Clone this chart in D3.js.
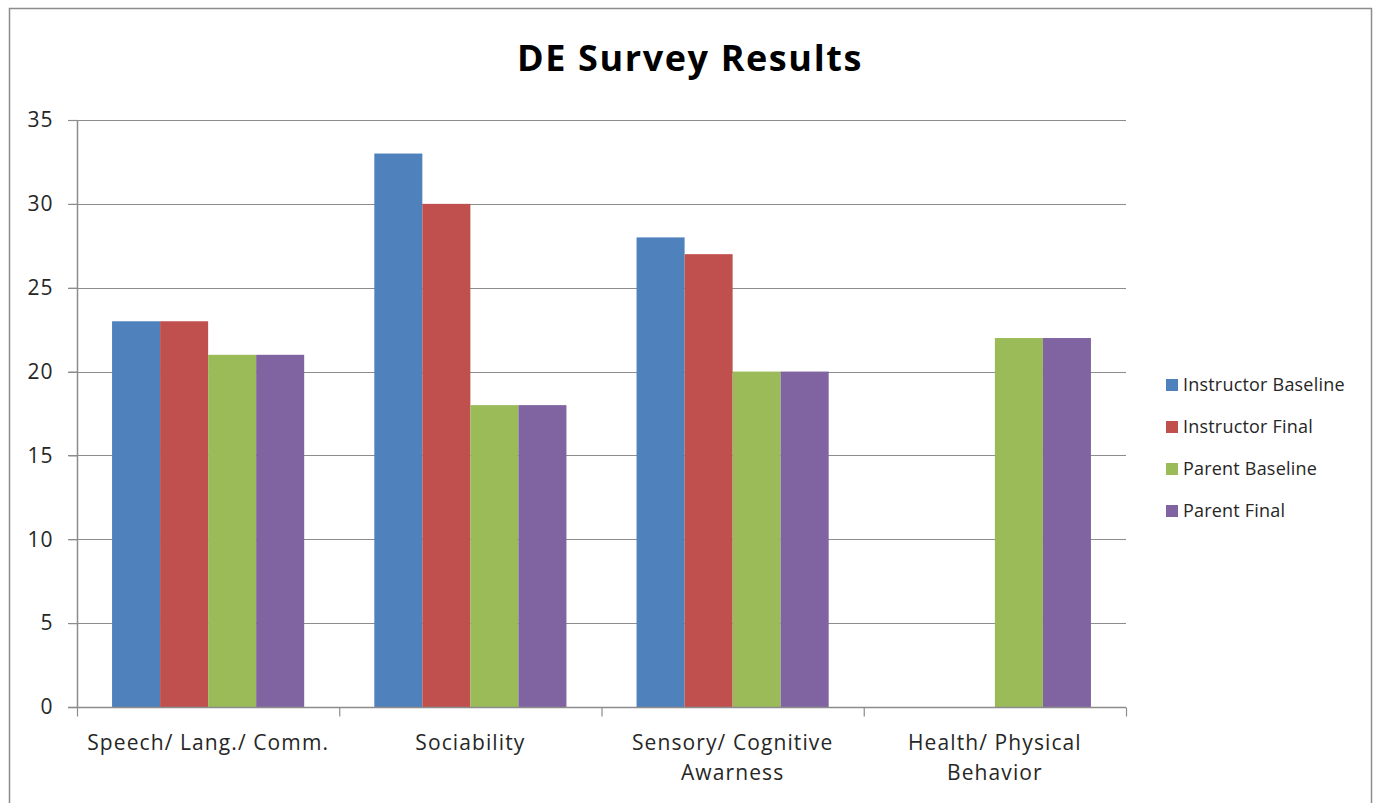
<!DOCTYPE html>
<html>
<head>
<meta charset="utf-8">
<script src="https://cdn.jsdelivr.net/npm/d3@7"></script>
<style>
  body { margin: 0; background: #fff; }
  text { font-family: "Open Sans", "Liberation Sans", sans-serif; fill: #262626; }
</style>
</head>
<body>
<svg width="1377" height="803"></svg>
<script>
// chart data
const categories = ["Speech/ Lang./ Comm.", "Sociability", "Sensory/ Cognitive Awarness", "Health/ Physical Behavior"];
const categoryLines = [["Speech/ Lang./ Comm."], ["Sociability"], ["Sensory/ Cognitive", "Awarness"], ["Health/ Physical", "Behavior"]];
const seriesNames = ["Instructor Baseline", "Instructor Final", "Parent Baseline", "Parent Final"];
const instructorBaseline = [23, 33, 28, 0];
const instructorFinal = [23, 30, 27, 0];
const parentBaseline = [21, 18, 20, 22];
const parentFinal = [21, 18, 20, 22];
const yTicks = [0, 5, 10, 15, 20, 25, 30, 35];

const seriesValues = [instructorBaseline, instructorFinal, parentBaseline, parentFinal];
const colors = ["#4f81bd", "#c0504d", "#9bbb59", "#8064a2"];

const svg = d3.select("svg");

// outer frame
svg.append("rect")
  .attr("x", 9.5).attr("y", 8.5)
  .attr("width", 1362).attr("height", 800)
  .attr("fill", "none").attr("stroke", "#8c8c8c").attr("stroke-width", 1.5);

const plotLeft = 77, plotRight = 1126, plotTop = 120, plotBottom = 707;

const x = d3.scaleBand().domain(categories).range([plotLeft, plotRight]);
const xs = d3.scaleBand().domain(seriesNames).range([0, x.bandwidth()]).paddingOuter(0.73);
const y = d3.scaleLinear().domain([0, 35]).range([plotBottom, plotTop]);

// title
svg.append("text")
  .attr("x", 690).attr("y", 71)
  .attr("text-anchor", "middle")
  .style("font-size", "36px").style("font-weight", "bold").style("fill", "#000")
  .style("letter-spacing", "1.6px")
  .text("DE Survey Results");

// gridlines
svg.append("g")
  .selectAll("line")
  .data(yTicks.filter(d => d > 0))
  .join("line")
  .attr("x1", plotLeft - 9).attr("x2", plotRight)
  .attr("y1", d => Math.round(y(d)) + 0.5).attr("y2", d => Math.round(y(d)) + 0.5)
  .attr("stroke", "#8c8c8c").attr("stroke-width", 1.2);

// bars
const groups = svg.append("g")
  .selectAll("g")
  .data(categories)
  .join("g")
  .attr("transform", d => `translate(${x(d)},0)`);

groups.selectAll("rect")
  .data((c, ci) => seriesNames.map((s, si) => ({ s, si, v: seriesValues[si][ci] })))
  .join("rect")
  .attr("x", d => xs(d.s))
  .attr("y", d => y(d.v))
  .attr("width", xs.bandwidth())
  .attr("height", d => y(0) - y(d.v))
  .attr("fill", d => colors[d.si]);

// y axis
const yAxis = svg.append("g")
  .attr("transform", `translate(${plotLeft + 0.5},0)`)
  .call(d3.axisLeft(y).tickValues(yTicks).tickSize(9).tickPadding(15));
yAxis.attr("font-family", null).attr("font-size", null);
yAxis.select(".domain").attr("stroke", "#8c8c8c").attr("stroke-width", 1.5).attr("d", `M0,${plotTop}V${plotBottom}`);
yAxis.selectAll(".tick line").attr("stroke", "#8c8c8c").attr("stroke-width", 1.2);
yAxis.selectAll(".tick text").style("font-size", "21px").style("letter-spacing", "1px").style("fill", "#262626");

// x axis
const xAxis = svg.append("g").attr("transform", `translate(0,${plotBottom + 0.5})`);
xAxis.append("line").attr("x1", plotLeft - 9).attr("x2", plotRight).attr("stroke", "#8c8c8c").attr("stroke-width", 1.5);
xAxis.selectAll(".xt")
  .data(d3.range(categories.length + 1))
  .join("line")
  .attr("class", "xt")
  .attr("x1", i => plotLeft + i * x.step() + 0.5).attr("x2", i => plotLeft + i * x.step() + 0.5)
  .attr("y1", 0).attr("y2", 9)
  .attr("stroke", "#8c8c8c").attr("stroke-width", 1.2);

const labels = svg.append("g")
  .selectAll("text")
  .data(categories)
  .join("text")
  .attr("text-anchor", "middle")
  .attr("x", d => x(d) + x.bandwidth() / 2)
  .attr("y", 750)
  .style("font-size", "21px")
  .style("letter-spacing", "1.1px");
labels.selectAll("tspan")
  .data((d, i) => categoryLines[i])
  .join("tspan")
  .attr("x", function () { return d3.select(this.parentNode).attr("x"); })
  .attr("dy", (d, i) => i === 0 ? 0 : 30)
  .text(d => d);

// legend
const legend = svg.append("g")
  .selectAll("g")
  .data(seriesNames)
  .join("g")
  .attr("transform", (d, i) => `translate(1166,${391 + i * 42})`);
legend.append("rect")
  .attr("x", 0).attr("y", -12).attr("width", 12).attr("height", 12)
  .attr("fill", (d, i) => colors[i]);
legend.append("text")
  .attr("x", 17).attr("y", 0)
  .style("font-size", "18px")
  .style("letter-spacing", "0.2px")
  .text(d => d);
</script>
</body>
</html>
